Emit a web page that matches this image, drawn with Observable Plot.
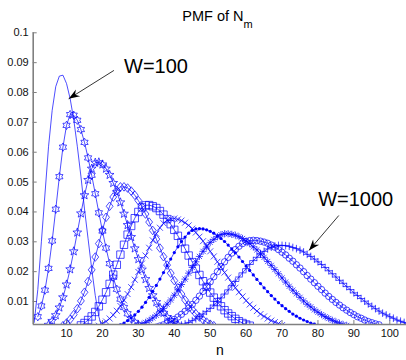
<!DOCTYPE html>
<html><head><meta charset="utf-8">
<script src="https://cdn.jsdelivr.net/npm/d3@7"></script>
<script src="https://cdn.jsdelivr.net/npm/@observablehq/plot@0.6"></script>
<style>
body{margin:0;background:#fff;}
#chart{width:406px;height:360px;overflow:hidden;}
</style></head><body>
<div id="chart"></div>
<script>
// ---- data ----
const W = [100, 200, 300, 400, 500, 600, 700, 800, 900, 1000];
const nStart = [1, 2, 5, 9, 14, 19, 24, 29, 35, 41];
const p100 = [.0030,.0140,.0300,.0460,.0620,.0740,.0820,.0855,.0858,.0830,.0780,.0710,.0620,.0520,.0410,.0310,.0210,.0120,.0050,.0005];
const p200 = [.0049,.0085,.0138,.0211,.0303,.0409,.0518,.0617,.0690,.0726,.0724,.0707,.0676,.0633,.0581,.0523,.0461,.0397,.0336,.0279,.0227,.0181,.0141,.0108,.0080,.0059,.0042,.0030,.0021];
const p300 = [.0022,.0035,.0054,.0080,.0114,.0157,.0208,.0268,.0331,.0395,.0456,.0507,.0545,.0565,.0566,.0559,.0545,.0524,.0497,.0466,.0432,.0394,.0356,.0316,.0278,.0242,.0207,.0175,.0145,.0121,.0098,.0079,.0062,.0048,.0038,.0028,.0022];
const p400 = [.0019,.0028,.0040,.0056,.0076,.0102,.0131,.0167,.0206,.0249,.0294,.0339,.0382,.0419,.0450,.0472,.0484,.0484,.0480,.0470,.0456,.0438,.0417,.0393,.0366,.0338,.0309,.0279,.0250,.0222,.0195,.0170,.0146,.0125,.0105,.0088,.0073,.0059,.0048,.0039,.0031,.0024,.0019];
const p500 = [.0020,.0028,.0038,.0050,.0065,.0084,.0106,.0131,.0159,.0190,.0223,.0257,.0290,.0324,.0353,.0379,.0400,.0415,.0422,.0423,.0419,.0413,.0403,.0391,.0376,.0359,.0340,.0320,.0299,.0277,.0254,.0232,.0210,.0189,.0168,.0149,.0130,.0113,.0098,.0084,.0071,.0060,.0051,.0042,.0034,.0028,.0023,.0019];
const p600 = [.0019,.0026,.0033,.0043,.0055,.0069,.0085,.0104,.0125,.0148,.0173,.0199,.0227,.0254,.0280,.0305,.0327,.0347,.0362,.0372,.0377,.0378,.0375,.0371,.0364,.0355,.0344,.0331,.0317,.0302,.0286,.0268,.0251,.0233,.0215,.0197,.0180,.0163,.0146,.0131,.0117,.0103,.0090,.0079,.0068,.0058,.0050,.0043,.0036,.0031,.0026,.0021];
const p700 = [.0017,.0022,.0028,.0036,.0045,.0055,.0067,.0081,.0097,.0114,.0134,.0154,.0175,.0197,.0220,.0242,.0264,.0283,.0301,.0316,.0329,.0338,.0343,.0344,.0343,.0340,.0335,.0329,.0320,.0311,.0301,.0289,.0276,.0263,.0249,.0234,.0219,.0204,.0189,.0174,.0160,.0146,.0133,.0120,.0108,.0096,.0086,.0076,.0067,.0058,.0051,.0044,.0038,.0033,.0028,.0024,.0020];
const p800 = [.0015,.0019,.0024,.0030,.0037,.0045,.0054,.0065,.0077,.0091,.0105,.0121,.0139,.0157,.0175,.0195,.0214,.0233,.0251,.0268,.0283,.0298,.0308,.0317,.0324,.0327,.0327,.0325,.0322,.0317,.0311,.0303,.0294,.0283,.0273,.0260,.0248,.0234,.0221,.0207,.0193,.0179,.0165,.0151,.0138,.0126,.0114,.0102,.0091,.0082,.0072,.0064,.0056,.0049,.0043,.0037,.0032,.0027,.0023,.0020];
const p900 = [.0014,.0018,.0022,.0027,.0033,.0040,.0048,.0057,.0067,.0078,.0090,.0104,.0118,.0134,.0150,.0166,.0183,.0200,.0217,.0233,.0248,.0262,.0274,.0285,.0294,.0300,.0304,.0305,.0304,.0302,.0299,.0295,.0289,.0282,.0274,.0265,.0256,.0245,.0235,.0223,.0212,.0200,.0187,.0175,.0163,.0151,.0140,.0128,.0117,.0107,.0097,.0088,.0079,.0071,.0063,.0056,.0049,.0044,.0038,.0033,.0029,.0025,.0022];
const p1000 = [.0017,.0021,.0025,.0030,.0036,.0042,.0050,.0058,.0067,.0077,.0088,.0100,.0112,.0125,.0139,.0153,.0167,.0182,.0196,.0210,.0224,.0237,.0248,.0259,.0268,.0276,.0282,.0286,.0288,.0288,.0287,.0285,.0281,.0277,.0272,.0266,.0258,.0251,.0242,.0233,.0224,.0214,.0203,.0193,.0182,.0171,.0161,.0150,.0140,.0129,.0120,.0110,.0101,.0092,.0084,.0076,.0068,.0061,.0055,.0049,.0044,.0038,.0034,.0030,.0026];
const markers = ["none","hexagram","pentagram","diamond","square","x","point","asterisk","circle","plus"];

const xTicks = [10,20,30,40,50,60,70,80,90,100];
const xTickLabels = ["10","20","30","40","50","60","70","80","90","100"];
const yTicks = [0.01,0.02,0.03,0.04,0.05,0.06,0.07,0.08,0.09,0.1];
const yTickLabels = ["0.01","0.02","0.03","0.04","0.05","0.06","0.07","0.08","0.09","0.1"];
const xDomain = [0.72, 104.65];
const yDomain = [0.0023, 0.1];

const annoText = ["W=100", "W=1000"];
const annoX = [34.9, 90.5];
const annoY = [0.0886, 0.0442];
const arrowX1 = [23.2, 85.8], arrowY1 = [0.0874, 0.0388];
const arrowX2 = [10.6, 77.5], arrowY2 = [0.0779, 0.0271];

const titleText = "PMF of N", titleSub = "m", xLabel = "n";

// ---- layout ----
const width = 406, height = 360;
const mL = 32.7, mR = 0, mT = 32.3, mB = 36;
const blue = "#0000ff";

const pmf = [p100,p200,p300,p400,p500,p600,p700,p800,p900,p1000];
const rows = W.flatMap((w, i) => pmf[i].map((p, j) => ({W: w, n: nStart[i] + j, p})));

// ---- marker symbols (MATLAB style) ----
function mk(fn) { return {draw(c, size) { fn(c, Math.sqrt(size / Math.PI)); }}; }
function star(k, inner) {
  return mk((c, r) => {
    for (let i = 0; i < 2 * k; i++) {
      const a = -Math.PI / 2 + i * Math.PI / k, q = i % 2 ? r * inner : r;
      const x = q * Math.cos(a), y = q * Math.sin(a);
      if (i) c.lineTo(x, y); else c.moveTo(x, y);
    }
    c.closePath();
  });
}
const SYM = {
  hexagram: star(6, 0.577),
  pentagram: star(5, 0.42),
  diamond: mk((c, r) => { c.moveTo(0, -r); c.lineTo(r * 0.8, 0); c.lineTo(0, r); c.lineTo(-r * 0.8, 0); c.closePath(); }),
  square: mk((c, r) => { c.moveTo(-r, -r); c.lineTo(r, -r); c.lineTo(r, r); c.lineTo(-r, r); c.closePath(); }),
  x: mk((c, r) => { c.moveTo(-r, -r); c.lineTo(r, r); c.moveTo(-r, r); c.lineTo(r, -r); }),
  point: mk((c, r) => { c.moveTo(r, 0); c.arc(0, 0, r, 0, 2 * Math.PI); }),
  asterisk: mk((c, r) => { const d = r * 0.72; c.moveTo(-r, 0); c.lineTo(r, 0); c.moveTo(0, -r); c.lineTo(0, r); c.moveTo(-d, -d); c.lineTo(d, d); c.moveTo(-d, d); c.lineTo(d, -d); }),
  circle: mk((c, r) => { c.moveTo(r, 0); c.arc(0, 0, r, 0, 2 * Math.PI); }),
  plus: mk((c, r) => { c.moveTo(-r, 0); c.lineTo(r, 0); c.moveTo(0, -r); c.lineTo(0, r); })
};
const SIZE = {hexagram: 4.2, pentagram: 4.6, diamond: 4.3, square: 3.7, x: 3.0, point: 1.6, asterisk: 3.6, circle: 3.2, plus: 3.8};

// arrowheads: compute direction in pixel space with the same mapping as the plot
const sx = d3.scaleLinear(xDomain, [mL, width - mR]);
const sy = d3.scaleLinear(yDomain, [height - mB, mT]);
function arrowHead(i) {
  const dx = sx(arrowX2[i]) - sx(arrowX1[i]), dy = sy(arrowY2[i]) - sy(arrowY1[i]);
  const L = Math.hypot(dx, dy), ux = dx / L, uy = dy / L, px = -uy, py = ux;
  const pt = (a, b) => [-a * ux + b * px, -a * uy + b * py];
  return {draw(c) {
    c.moveTo(0, 0);
    let q = pt(11, 4); c.lineTo(q[0], q[1]);
    q = pt(7.5, 0); c.lineTo(q[0], q[1]);
    q = pt(11, -4); c.lineTo(q[0], q[1]);
    c.closePath();
  }};
}

const marks = [];
W.forEach((w, i) => {
  const data = rows.filter(d => d.W === w);
  marks.push(Plot.line(data, {x: "n", y: "p", stroke: blue, strokeWidth: 0.7, clip: true}));
  const m = markers[i];
  if (m !== "none") {
    const filled = m === "point";
    marks.push(Plot.dot(data, {x: "n", y: "p", symbol: SYM[m], r: SIZE[m],
      fill: filled ? blue : "none", stroke: filled ? "none" : blue, strokeWidth: 0.7, clip: true}));
  }
});

const idx = [0, 1];
const plot = Plot.plot({
  width, height,
  marginLeft: mL, marginRight: mR, marginTop: mT, marginBottom: mB,
  style: {fontFamily: "'Liberation Sans', Arial, Helvetica, sans-serif", fontSize: "11px", background: "#fff", color: "#000"},
  x: {domain: xDomain},
  y: {domain: yDomain},
  marks: [
    Plot.axisX(xTicks, {tickSize: -4, tickPadding: 9, tickFormat: d => xTickLabels[xTicks.indexOf(d)], stroke: "#808080", fill: "#111", label: null}),
    Plot.axisY(yTicks, {tickSize: -4, tickPadding: 8.5, tickFormat: d => yTickLabels[yTicks.indexOf(d)], stroke: "#808080", fill: "#111", label: null}),
    ...marks,
    Plot.ruleY([yDomain[0]], {stroke: "#808080", strokeWidth: 1.6}),
    Plot.ruleX([xDomain[0]], {stroke: "#808080", strokeWidth: 1.6}),
    Plot.link(idx, {x1: i => arrowX1[i], y1: i => arrowY1[i], x2: i => arrowX2[i], y2: i => arrowY2[i], stroke: "#000", strokeWidth: 0.8}),
    ...idx.map(i => Plot.dot([i], {x: j => arrowX2[j], y: j => arrowY2[j], symbol: arrowHead(i), r: 5, fill: "#000", stroke: "none"})),
    Plot.text(idx, {x: i => annoX[i], y: i => annoY[i], text: i => annoText[i], fontSize: 20, fill: "#000", textAnchor: "middle"}),
    Plot.text([xLabel], {frameAnchor: "bottom", text: d => d, dy: 30, fontSize: 14, fill: "#000"})
  ]
});

const svg = d3.select(plot);
const t = svg.append("text")
  .attr("x", 217.5).attr("y", 20.7)
  .attr("text-anchor", "middle")
  .attr("font-size", "14.5px")
  .attr("fill", "#000")
  .text(titleText);
t.append("tspan").attr("dy", 7.5).attr("font-size", "11px").text(titleSub);

document.getElementById("chart").appendChild(plot);
</script>
</body></html>
